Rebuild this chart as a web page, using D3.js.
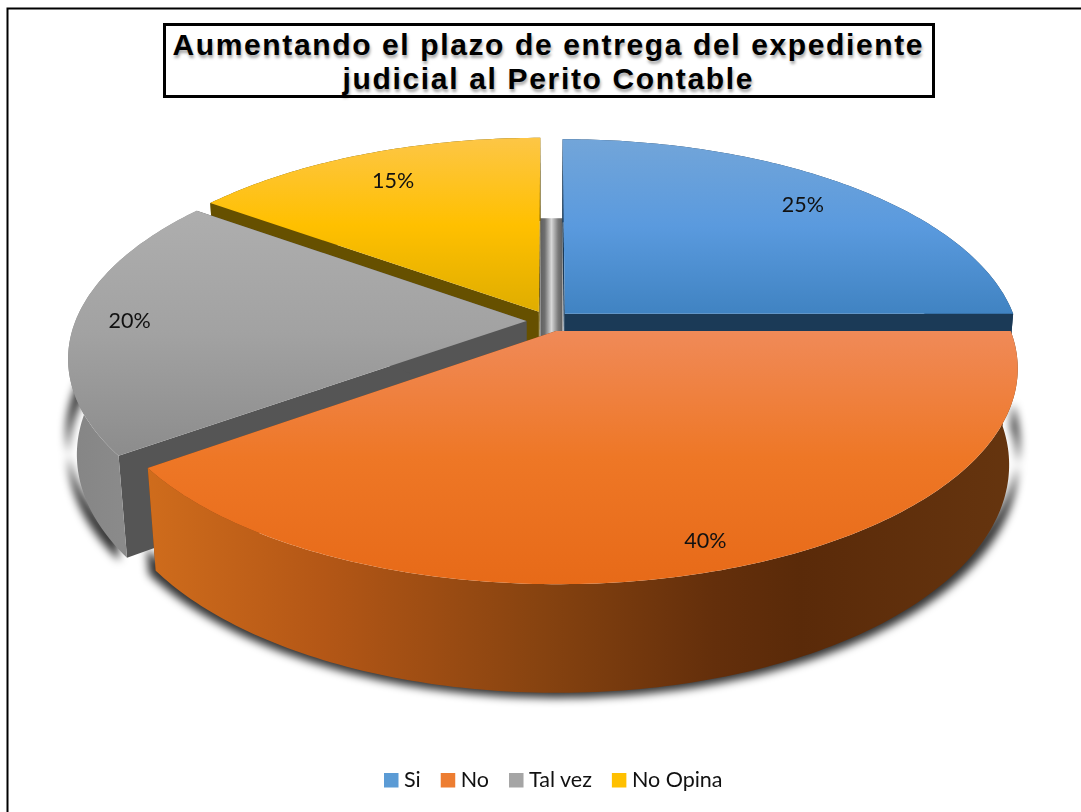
<!DOCTYPE html>
<html>
  <head>
    <meta charset="utf-8">
    <title>Aumentando el plazo</title>
    <script src="https://d3js.org/d3.v7.min.js"></script>
    <style>
      html, body { margin: 0; padding: 0; background: white; }
      svg { display: block; }
      .title { font-family: "Liberation Sans", Arial, sans-serif; font-weight: bold; font-size: 30px; text-shadow: 1px 3px 3px rgba(0,0,0,.35); }
      .lbl { font-family: Lato, sans-serif; font-size: 21.5px; fill: #111; }
      .leg { font-family: Lato, sans-serif; font-size: 21.5px; fill: #111; }
    </style>
  </head>
  <body>
    <svg width="1081" height="812"></svg>

    <script>
      // chart values
      var categories = ['Si', 'No', 'Tal vez', 'No Opina'];
      var values = [25, 40, 20, 15];
      var titleLines = ['Aumentando el plazo de entrega del expediente', 'judicial al Perito Contable'];

      // slice paint order, back to front
      var paintOrder = ['Si', 'No Opina', 'Tal vez', 'No'];

      var topStops = [
        ['#72a5d9', '#5a9ade', '#4083c2'],
        ['#f08a58', '#ee7726', '#e76a18'],
        ['#aeaeae', '#a2a2a2', '#8c8c8c'],
        ['#fdc646', '#ffc000', '#dfad00']
      ];
      var cutColor = d3.scaleOrdinal().domain(categories).range(['#1b3a57', '#7a3d10', '#555555', '#665000']);
      var legendColor = d3.scaleOrdinal().domain(categories).range(['#5b9bd5', '#ed7d31', '#a5a5a5', '#ffc000']);
      var labelRadius = d3.scaleOrdinal().domain(categories).range([0.83, 0.9, 0.88, 0.81]);

      var svg = d3.select('svg');
      var defs = svg.append('defs');

      // perspective projection of the tilted disc. u right, v toward viewer, h = 0 top, 1 bottom
      var cx = 549, cy = 321, A = 451, B = 206.5, k = 0.17, q = 0.018, D = 96;
      var explode = 0.05;

      var project = function(u, v, h){
        var w = 1 - k * v + q * h;
        return [cx + A * u / w, cy + (B * v + D * h) / w];
      };

      var pie = d3.pie().sort(null).startAngle(0).endAngle(2 * Math.PI);
      var slices = pie(values).map(function(d, i){
        var mid = (d.startAngle + d.endAngle) / 2;
        return {
          name: categories[i],
          index: i,
          start: d.startAngle,
          end: d.endAngle,
          mid: mid,
          ou: explode * Math.sin(mid),
          ov: -explode * Math.cos(mid)
        };
      });

      var pointAt = function(s, a, r, h){
        return project(s.ou + r * Math.sin(a), s.ov - r * Math.cos(a), h);
      };

      var rimPoints = function(s, h){
        var n = Math.ceil((s.end - s.start) * 60);
        return d3.range(n + 1).map(function(i){
          return pointAt(s, s.start + (s.end - s.start) * i / n, 1, h);
        });
      };

      var line = d3.line();

      var topFace = function(s){
        return line([pointAt(s, 0, 0, 0)].concat(rimPoints(s, 0))) + 'Z';
      };
      var rimWall = function(s, hTop){
        return line(rimPoints(s, hTop).concat(rimPoints(s, 1).reverse())) + 'Z';
      };
      var cutFace = function(s, a){
        return line([pointAt(s, a, 0, 0), pointAt(s, a, 1, 0), pointAt(s, a, 1, 1), pointAt(s, a, 0, 1)]) + 'Z';
      };

      var bySlice = function(name){
        return slices.find(function(s){ return s.name === name; });
      };

      // gradients
      var verticalGradient = function(id, stops, s){
        var ys = rimPoints(s, 0).map(function(p){ return p[1]; }).concat(pointAt(s, 0, 0, 0)[1]);
        var g = defs.append('linearGradient').attr('id', id)
          .attr('gradientUnits', 'userSpaceOnUse')
          .attr('x1', 0).attr('x2', 0).attr('y1', d3.min(ys)).attr('y2', d3.max(ys));
        g.append('stop').attr('offset', '0').attr('stop-color', stops[0]);
        g.append('stop').attr('offset', '.5').attr('stop-color', stops[1]);
        g.append('stop').attr('offset', '1').attr('stop-color', stops[2]);
      };
      slices.forEach(function(s){ verticalGradient('top' + s.index, topStops[s.index], s); });

      var wallStops = function(id, stops){
        var g = defs.append('linearGradient').attr('id', id);
        stops.forEach(function(st){
          g.append('stop').attr('offset', st[0]).attr('stop-color', st[1]);
        });
      };
      wallStops('wall0', [[0, '#1b3a57'], [1, '#1b3a57']]);
      wallStops('wall1', [[0, '#cf6c1c'], [0.2, '#b45716'], [0.45, '#874310'], [0.65, '#642f0b'], [0.75, '#5a2a09'], [1, '#66350f']]);
      wallStops('wall2', [[0, '#858585'], [1, '#929292']]);
      wallStops('wall3', [[0, '#665000'], [1, '#665000']]);
      wallStops('gap', [[0, '#5f5f5f'], [0.2, '#6f6f6f'], [0.5, '#d8d8d8'], [0.8, '#7a7a7a'], [1, '#5f5f5f']]);

      var blur = defs.append('filter').attr('id', 'soft')
        .attr('x', '-5%').attr('y', '-5%').attr('width', '110%').attr('height', '110%');
      blur.append('feGaussianBlur').attr('stdDeviation', 4);

      // outer frame, runs off the right and bottom edge
      svg.append('path').attr('d', 'M7.5,812V8.5H1081')
        .attr('fill', 'none').attr('stroke', '#000').attr('stroke-width', 2);

      // title box
      svg.append('rect').attr('x', 164.5).attr('y', 24.5).attr('width', 769).attr('height', 72)
        .attr('fill', 'white').attr('stroke', '#000').attr('stroke-width', 3);
      var titleWidths = d3.scaleOrdinal().domain(titleLines).range([750, 410]);
      svg.selectAll('.title').data(titleLines).enter().append('text')
        .attr('class', 'title')
        .attr('x', 547.5)
        .attr('y', function(d, i){ return 55 + i * 34; })
        .attr('text-anchor', 'middle')
        .attr('textLength', titleWidths)
        .attr('lengthAdjust', 'spacing')
        .text(function(d){ return d; });

      // drop shadow, only under the lower part of the walls
      var shadow = svg.append('g').attr('filter', 'url(#soft)')
        .attr('transform', 'translate(' + cx + ',330) scale(1.018,1.014) translate(' + (-cx) + ',-330)');
      ['Tal vez', 'No'].forEach(function(name){
        var s = bySlice(name);
        shadow.append('path').attr('d', rimWall(s, 0.75)).attr('fill', '#000').attr('opacity', 0.8);
      });

      // the grey strip seen through the gap between Si and No Opina
      var gapLeft = pointAt(bySlice('No Opina'), 2 * Math.PI, 1, 0)[0];
      var gapRight = pointAt(bySlice('Si'), 0, 1, 0)[0];
      var gapTop = pointAt(bySlice('Si'), 0, 1, 0.95)[1];
      var gapBottom = pointAt(bySlice('Si'), Math.PI / 2, 0, 1)[1];
      svg.append('rect')
        .attr('x', gapLeft).attr('y', gapTop)
        .attr('width', gapRight - gapLeft).attr('height', gapBottom - gapTop)
        .attr('fill', 'url(#gap)');

      // slices
      paintOrder.forEach(function(name){
        var s = bySlice(name);
        var g = svg.append('g').attr('class', 'slice');
        g.append('path').attr('d', cutFace(s, s.start)).attr('fill', cutColor(name));
        g.append('path').attr('d', cutFace(s, s.end)).attr('fill', cutColor(name));
        g.append('path').attr('d', rimWall(s, 0)).attr('fill', 'url(#wall' + s.index + ')');
        g.append('path').attr('d', topFace(s)).attr('fill', 'url(#top' + s.index + ')');
      });

      // data labels
      svg.selectAll('.lbl').data(slices).enter().append('text')
        .attr('class', 'lbl')
        .attr('text-anchor', 'middle')
        .attr('x', function(s){ return pointAt(s, s.mid, labelRadius(s.name), 0)[0]; })
        .attr('y', function(s){ return pointAt(s, s.mid, labelRadius(s.name), 0)[1] + 7; })
        .text(function(s){ return values[s.index] + '%'; });

      // legend
      var legendX = 384;
      categories.forEach(function(name){
        svg.append('rect').attr('x', legendX).attr('y', 773).attr('width', 14.5).attr('height', 14.5)
          .attr('fill', legendColor(name));
        var t = svg.append('text').attr('class', 'leg').attr('x', legendX + 20).attr('y', 787).text(name);
        legendX += 20 + t.node().getComputedTextLength() + 20;
      });
    </script>
  </body>
</html>
